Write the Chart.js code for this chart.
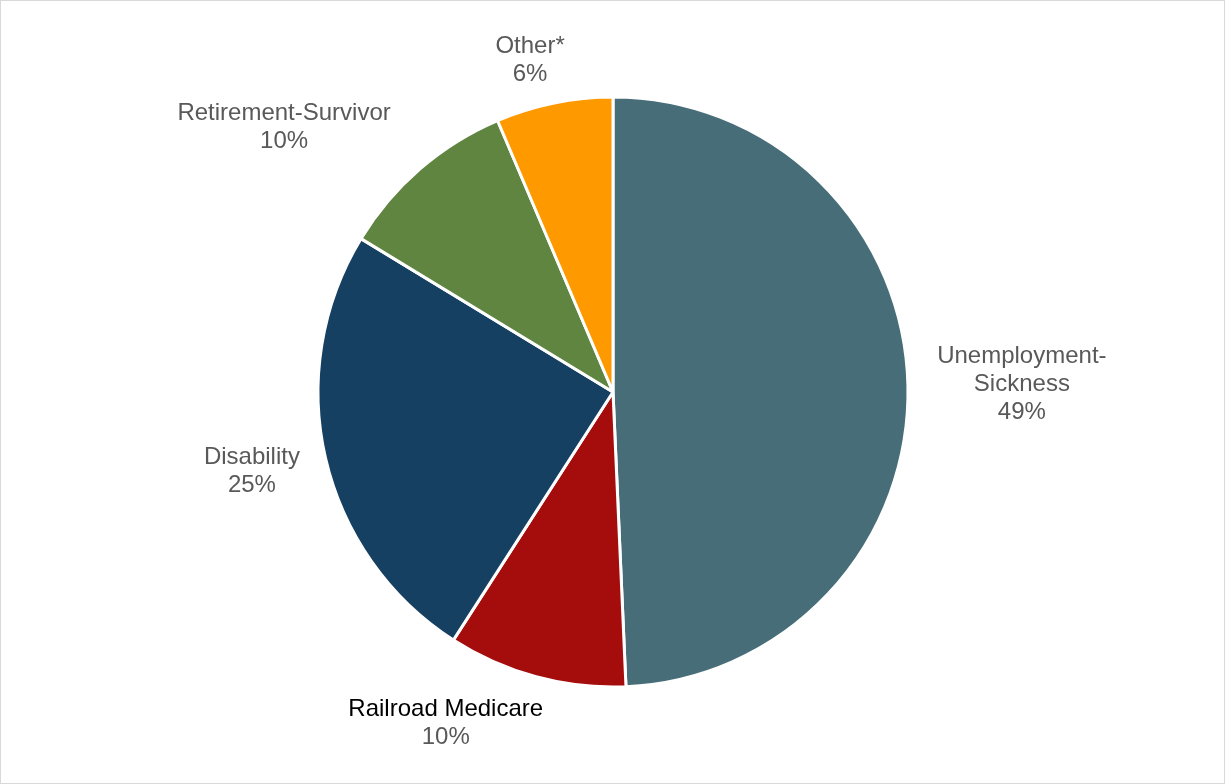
<!DOCTYPE html>
<html>
<head>
<meta charset="utf-8">
<script src="https://cdn.jsdelivr.net/npm/chart.js@4/dist/chart.umd.min.js"></script>
<style>
  html, body { margin: 0; padding: 0; background: #ffffff; }
  #wrap { width: 1225px; height: 784px; }
</style>
</head>
<body>
<div id="wrap"><canvas id="c" width="1225" height="784"></canvas></div>
<script>
const categories = ["Unemployment-Sickness", "Railroad Medicare", "Disability", "Retirement-Survivor", "Other*"];
const labelLines = [["Unemployment-", "Sickness"], ["Railroad Medicare"], ["Disability"], ["Retirement-Survivor"], ["Other*"]];
const shares = [49.3, 9.8, 24.6, 9.9, 6.4];
const colors = ["#476E78", "#A50D0D", "#154062", "#5F8540", "#FF9900"];

// label block placement relative to pie centre, in units of radius (layout only)
const labelPlacement = [
  { dx: 1.386, dy: -0.027, nameColor: "#595959" },
  { dx: -0.567, dy: 1.122, nameColor: "#000000" },
  { dx: -1.224, dy: 0.268, nameColor: "#595959" },
  { dx: -1.115, dy: -0.897, nameColor: "#595959" },
  { dx: -0.281, dy: -1.125, nameColor: "#595959" }
];

const frameAndLabels = {
  id: "frameAndLabels",
  beforeDraw(chart) {
    const ctx = chart.ctx;
    ctx.save();
    ctx.fillStyle = "#ffffff";
    ctx.fillRect(0, 0, chart.width, chart.height);
    ctx.strokeStyle = "#D9D9D9";
    ctx.lineWidth = 1;
    ctx.strokeRect(0.5, 0.5, chart.width - 1, chart.height - 1);
    ctx.restore();
  },
  afterDraw(chart) {
    const ctx = chart.ctx;
    const meta = chart.getDatasetMeta(0);
    const lineH = 28;
    ctx.save();
    ctx.font = "24px 'Liberation Sans', Arial, sans-serif";
    ctx.textAlign = "center";
    ctx.textBaseline = "middle";
    meta.data.forEach((arc, i) => {
      const r = arc.outerRadius;
      const p = labelPlacement[i];
      const cx = arc.x + p.dx * r;
      const cy = arc.y + p.dy * r;
      const lines = labelLines[i].slice();
      const n = lines.length + 1;
      const top = cy - (n - 1) * lineH / 2;
      lines.forEach((t, k) => {
        ctx.fillStyle = p.nameColor;
        ctx.fillText(t, cx, top + k * lineH);
      });
      ctx.fillStyle = "#595959";
      ctx.fillText(Math.round(chart.data.datasets[0].data[i]) + "%", cx, top + lines.length * lineH);
    });
    ctx.restore();
  }
};

new Chart(document.getElementById("c"), {
  type: "pie",
  data: {
    labels: categories,
    datasets: [{
      data: shares,
      backgroundColor: colors,
      borderColor: "#ffffff",
      borderWidth: 3,
      hoverOffset: 0
    }]
  },
  options: {
    responsive: false,
    animation: false,
    radius: 295,
    layout: { padding: { left: 318, right: 317, top: 97, bottom: 97 } },
    plugins: {
      legend: { display: false },
      tooltip: { enabled: false },
      title: { display: false }
    }
  },
  plugins: [frameAndLabels]
});
</script>
</body>
</html>
